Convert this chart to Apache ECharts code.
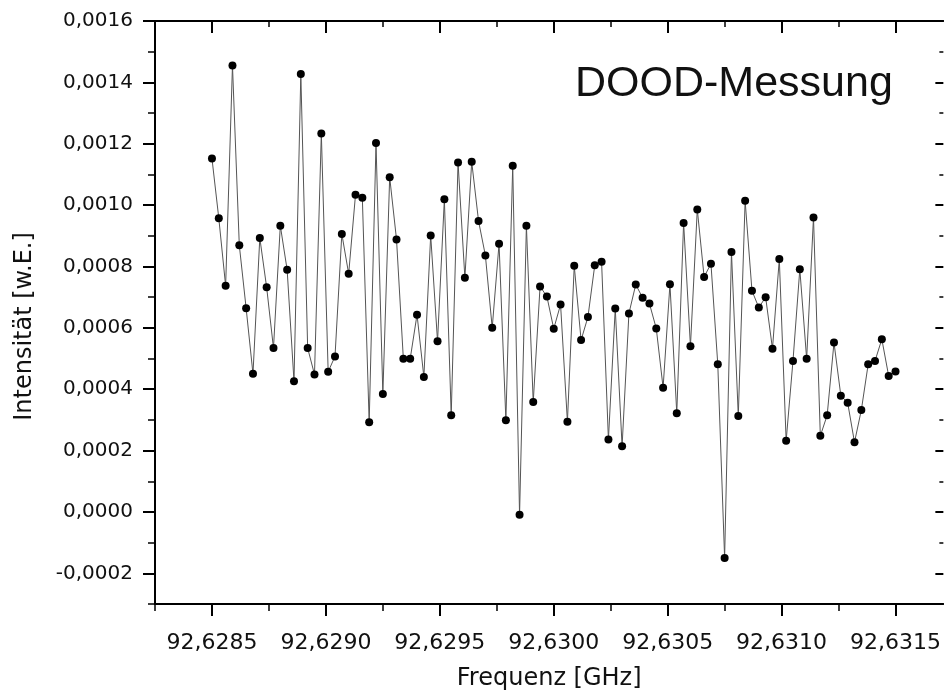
<!DOCTYPE html>
<html>
<head>
<meta charset="utf-8">
<title>DOOD-Messung</title>
<script src="https://cdn.jsdelivr.net/npm/echarts@6/dist/echarts.min.js"></script>
<style>
  html, body { margin: 0; padding: 0; background: #fff; }
  #chart { width: 944px; height: 698px; }
</style>
</head>
<body>
<div id="chart"></div>
<script>
// Frequenz [GHz]
var frequency = [
  92.62850, 92.62853, 92.62856, 92.62859, 92.62862, 92.62865, 92.62868, 92.62871, 92.62874, 92.62877,
  92.62880, 92.62883, 92.62886, 92.62889, 92.62892, 92.62895, 92.62898, 92.62901, 92.62904, 92.62907,
  92.62910, 92.62913, 92.62916, 92.62919, 92.62922, 92.62925, 92.62928, 92.62931, 92.62934, 92.62937,
  92.62940, 92.62943, 92.62946, 92.62949, 92.62952, 92.62955, 92.62958, 92.62961, 92.62964, 92.62967,
  92.62970, 92.62973, 92.62976, 92.62979, 92.62982, 92.62985, 92.62988, 92.62991, 92.62994, 92.62997,
  92.63000, 92.63003, 92.63006, 92.63009, 92.63012, 92.63015, 92.63018, 92.63021, 92.63024, 92.63027,
  92.63030, 92.63033, 92.63036, 92.63039, 92.63042, 92.63045, 92.63048, 92.63051, 92.63054, 92.63057,
  92.63060, 92.63063, 92.63066, 92.63069, 92.63072, 92.63075, 92.63078, 92.63081, 92.63084, 92.63087,
  92.63090, 92.63093, 92.63096, 92.63099, 92.63102, 92.63105, 92.63108, 92.63111, 92.63114, 92.63117,
  92.63120, 92.63123, 92.63126, 92.63129, 92.63132, 92.63135, 92.63138, 92.63141, 92.63144, 92.63147,
  92.63150
];

// Intensität [w.E.]
var intensity = [
  0.001152, 0.000957, 0.000737, 0.001455, 0.000869, 0.000664, 0.000450, 0.000893, 0.000732, 0.000534,
  0.000933, 0.000789, 0.000426, 0.001427, 0.000534, 0.000448, 0.001233, 0.000457, 0.000507, 0.000906,
  0.000776, 0.001034, 0.001024, 0.000292, 0.001202, 0.000384, 0.001091, 0.000888, 0.000499, 0.000499,
  0.000643, 0.000440, 0.000901, 0.000556, 0.001019, 0.000315, 0.001139, 0.000763, 0.001141, 0.000948,
  0.000836, 0.000600, 0.000874, 0.000299, 0.001128, -0.000009, 0.000933, 0.000358, 0.000735, 0.000702,
  0.000597, 0.000676, 0.000294, 0.000802, 0.000560, 0.000635, 0.000804, 0.000815, 0.000236, 0.000663,
  0.000214, 0.000647, 0.000741, 0.000698, 0.000679, 0.000598, 0.000405, 0.000742, 0.000322, 0.000942,
  0.000540, 0.000986, 0.000766, 0.000809, 0.000481, -0.000150, 0.000847, 0.000313, 0.001014, 0.000721,
  0.000666, 0.000700, 0.000532, 0.000824, 0.000232, 0.000492, 0.000791, 0.000499, 0.000960, 0.000248,
  0.000315, 0.000552, 0.000379, 0.000356, 0.000227, 0.000332, 0.000481, 0.000492, 0.000563, 0.000443,
  0.000458
];

// tick positions
var xMajorTicks = [92.6285, 92.6290, 92.6295, 92.6300, 92.6305, 92.6310, 92.6315];
var xMinorTicks = [92.62825, 92.62875, 92.62925, 92.62975, 92.63025, 92.63075, 92.63125];
var yMajorTicks = [-0.0002, 0, 0.0002, 0.0004, 0.0006, 0.0008, 0.0010, 0.0012, 0.0014, 0.0016];
var yMinorTicks = [-0.0003, -0.0001, 0.0001, 0.0003, 0.0005, 0.0007, 0.0009, 0.0011, 0.0013, 0.0015];

// the plot box runs a little past the right edge of the picture
var X_MIN = 92.62825, X_MAX = 92.63171;
var Y_MIN = -0.0003, Y_MAX = 0.0016;

var fmt = function (v) {
  return v.toFixed(4).replace('.', ',');
};

var labelFont = 'DejaVu Sans';

// one axis per tick length (major / minor), mirrored on top and right like Origin does
function xAx(pos, ticks, len, inside, main) {
  return {
    type: 'value',
    position: pos,
    min: X_MIN,
    max: X_MAX,
    axisLine: { show: main, onZero: false, lineStyle: { color: '#000', width: 2 } },
    axisTick: { show: true, inside: inside, length: len, customValues: ticks,
      lineStyle: { color: '#000', width: main ? 2 : 1.5 } },
    axisLabel: { show: false },
    splitLine: { show: false }
  };
}

function yAx(pos, ticks, len, inside, main) {
  return {
    type: 'value',
    position: pos,
    min: Y_MIN,
    max: Y_MAX,
    axisLine: { show: main, onZero: false, lineStyle: { color: '#000', width: 2 } },
    axisTick: { show: true, inside: inside, length: len, customValues: ticks,
      lineStyle: { color: '#000', width: main ? 2 : 1.5 } },
    axisLabel: { show: false },
    splitLine: { show: false }
  };
}

var xBottom = xAx('bottom', xMajorTicks, 12, false, true);
xBottom.axisLabel = {
  show: true,
  customValues: xMajorTicks,
  formatter: fmt,
  margin: 28,
  fontSize: 22,
  fontFamily: labelFont,
  color: '#111'
};
xBottom.name = 'Frequenz [GHz]';
xBottom.nameLocation = 'middle';
xBottom.nameGap = 63;
xBottom.nameTextStyle = { fontSize: 24, fontFamily: labelFont, color: '#111' };

var yLeft = yAx('left', yMajorTicks, 12, false, true);
yLeft.axisLabel = {
  show: true,
  customValues: yMajorTicks,
  formatter: fmt,
  margin: 22,
  fontSize: 20,
  fontFamily: labelFont,
  color: '#111'
};
yLeft.name = 'Intensität [w.E.]';
yLeft.nameLocation = 'middle';
yLeft.nameGap = 118;
yLeft.nameTextStyle = { fontSize: 24, fontFamily: labelFont, color: '#111', padding: [0, 28, 0, 0] };

// right axis line sits just outside the picture, only its ticks show
var yRight = yAx('right', yMajorTicks, 8, true, true);
yRight.axisLine.show = false;

var chart = echarts.init(document.getElementById('chart'), null, { renderer: 'canvas' });

chart.setOption({
  backgroundColor: '#fff',
  animation: false,
  grid: { left: 155, top: 21, right: 0, height: 583 },
  graphic: [{
    type: 'text',
    left: 575,
    top: 63,
    style: {
      text: 'DOOD-Messung',
      font: '43px "Liberation Sans", Arial, sans-serif',
      fill: '#111'
    }
  }],
  xAxis: [
    xBottom,
    xAx('bottom', xMinorTicks, 7, false, false),
    xAx('top', xMajorTicks, 12, true, true),
    xAx('top', xMinorTicks, 6, true, false)
  ],
  yAxis: [
    yLeft,
    yAx('left', yMinorTicks, 7, false, false),
    yRight,
    yAx('right', yMinorTicks, 4, true, false)
  ],
  series: [{
    type: 'line',
    xAxisIndex: 0,
    yAxisIndex: 0,
    data: frequency.map(function (f, i) { return [f, intensity[i]]; }),
    symbol: 'circle',
    symbolSize: 8,
    showAllSymbol: true,
    itemStyle: { color: '#000' },
    lineStyle: { color: '#555', width: 1 }
  }]
});
</script>
</body>
</html>
